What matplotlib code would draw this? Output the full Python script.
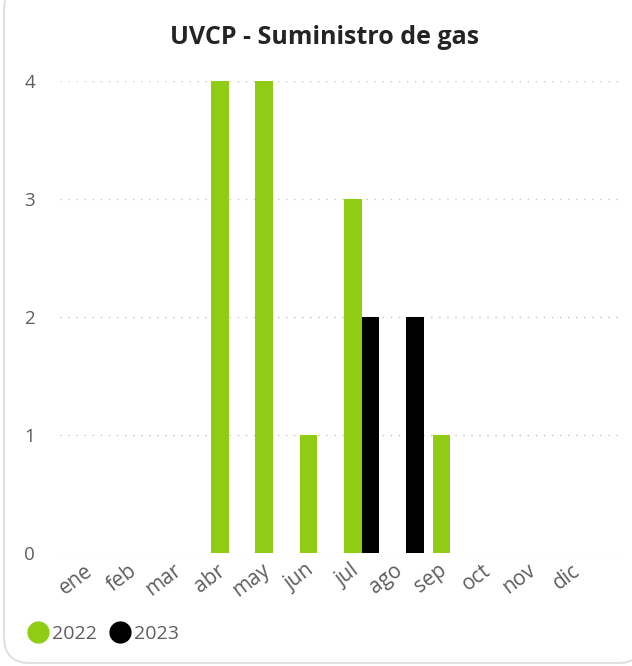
import numpy as np
import matplotlib
matplotlib.use('Agg')
import matplotlib.pyplot as plt
import matplotlib.transforms as mtransforms
from matplotlib.patches import FancyBboxPatch
from matplotlib.lines import Line2D

# data
months = ['ene', 'feb', 'mar', 'abr', 'may', 'jun', 'jul', 'ago', 'sep', 'oct', 'nov', 'dic']
v2022 = [0, 0, 0, 4, 4, 1, 3, 0, 1, 0, 0, 0]
v2023 = [0, 0, 0, 0, 0, 0, 2, 2, 0, 0, 0, 0]
series = ['2022', '2023']

green = '#91CC14'
black = '#000000'
gray = '#605E5C'

plt.rcParams['font.family'] = ['Open Sans', 'DejaVu Sans']

W, H = 632, 666
fig = plt.figure(figsize=(W / 100, H / 100), dpi=100)

# card border
card = FancyBboxPatch((4 / W, 3 / H), 640 / W, 680 / H,
                      boxstyle='round,pad=0,rounding_size=0.04',
                      transform=fig.transFigure, facecolor='white',
                      edgecolor='#E1E1E1', linewidth=1.5, zorder=-5)
fig.patches.append(card)

fig.text(325 / W, 1 - 38 / H, 'UVCP - Suministro de gas', ha='center', va='center',
         fontsize=18, fontweight='bold', color='#252423')

# axes: x px 60..620, y px 81 (4) .. 553 (0)
ax = fig.add_axes([60 / W, 1 - 553 / H, 560 / W, 472 / H])
ax.set_facecolor('none')
ax.set_zorder(2)

x = np.arange(len(months))
ax.bar(x - 0.2, v2022, width=0.4, color=green, zorder=3)
ax.bar(x + 0.2, v2023, width=0.4, color=black, zorder=3)

ax.set_ylim(0, 4)
ax.set_xlim(-0.81, 11.83)
ax.set_yticks([0, 1, 2, 3, 4])
ax.set_xticks(x)
ax.tick_params(axis='y', length=0, colors=gray, labelsize=13.5, pad=18)
ax.tick_params(axis='x', length=0, colors=gray, pad=5)
ax.set_xticklabels(months, rotation=37, ha='right', rotation_mode='anchor',
                   fontsize=15, color=gray)
shift = mtransforms.ScaledTranslation(-12 / 100, 0, fig.dpi_scale_trans)
for lab in ax.get_xticklabels():
    lab.set_transform(lab.get_transform() + shift)
for s in ax.spines.values():
    s.set_visible(False)
ax.grid(axis='y', color='#C8C6C4', linestyle=(0, (1, 4.8)), linewidth=1.0, zorder=0)
ax.set_axisbelow(True)

handles = [Line2D([], [], marker='o', linestyle='', markersize=15, color=c)
           for c in (green, black)]
leg = fig.legend(handles, series, loc='center left', bbox_to_anchor=(27 / W, 1 - 634 / H),
                 frameon=False, ncol=2, handletextpad=0.2, columnspacing=0.6,
                 handlelength=1.1, borderpad=0, borderaxespad=0,
                 fontsize=14, labelcolor=gray)
leg.set_zorder(3)

plt.savefig('out.png', dpi=100)
